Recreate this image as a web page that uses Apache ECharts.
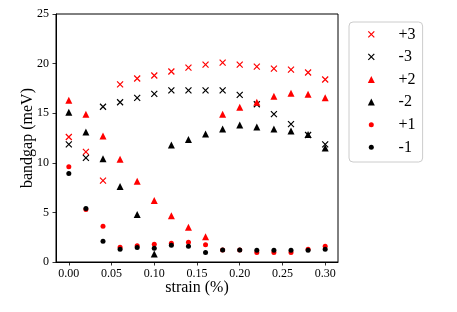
<!DOCTYPE html>
<html>
<head>
<meta charset="utf-8">
<script src="https://cdn.jsdelivr.net/npm/echarts@6/dist/echarts.min.js"></script>
<style>html,body{margin:0;padding:0;background:#fff}#c{width:457px;height:312px}</style>
</head>
<body>
<div id="c"></div>
<script>
var strain = [0.00,0.02,0.04,0.06,0.08,0.10,0.12,0.14,0.16,0.18,0.20,0.22,0.24,0.26,0.28,0.30];
var plus3  = [12.6,11.1,8.2,17.9,18.5,18.8,19.2,19.6,19.9,20.1,19.9,19.7,19.5,19.4,19.1,18.4];
var minus3 = [11.85,10.5,15.65,16.1,16.55,16.95,17.3,17.3,17.3,17.3,16.85,15.9,14.9,13.9,12.8,11.85];
var plus2  = [16.3,14.9,12.7,10.35,8.15,6.2,4.65,3.5,2.55,14.9,15.6,16.1,16.7,17.0,16.9,16.55];
var minus2 = [15.1,13.1,10.4,7.6,4.8,0.8,11.8,12.35,12.9,13.4,13.8,13.6,13.4,13.2,12.85,11.5];
var plus1  = [9.6,5.3,3.6,1.48,1.65,1.78,1.9,2.0,1.75,1.2,1.2,0.95,0.97,0.95,1.28,1.6];
var minus1 = [8.93,5.4,2.1,1.28,1.45,1.38,1.7,1.6,0.95,1.2,1.2,1.18,1.18,1.18,1.18,1.28];
var xTicks = [0.00,0.05,0.10,0.15,0.20,0.25,0.30];
var names = ['+3','-3','+2','-2','+1','-1'];

function pairs(ys){ return strain.map(function(x,i){ return [x, ys[i]]; }); }

var CROSS = 'path://M0,0L10,10M10,0L0,10';
var CROSS_L = 'path://M0,0M7,7M0.5,0.5L6.5,6.5M6.5,0.5L0.5,6.5';
var DOT_L = 'path://M0,0M7,7M3.5,1A2.5,2.5,0,1,1,3.5,6A2.5,2.5,0,1,1,3.5,1Z';
var FONT = 'Liberation Serif';

function crossSeries(name, ys, col){
  return {name:name, type:'scatter', data:pairs(ys), symbol:CROSS, symbolSize:6,
    itemStyle:{color:col, borderColor:col, borderWidth:1.2, opacity:1}};
}
function markSeries(name, ys, col, sym, size){
  return {name:name, type:'scatter', data:pairs(ys), symbol:sym, symbolSize:size,
    itemStyle:{color:col, borderWidth:0, opacity:1}};
}

var chart = echarts.init(document.getElementById('c'), null, {renderer:'canvas'});
chart.setOption({
  animation:false,
  backgroundColor:'#fff',
  grid:{left:56, right:119, top:14, bottom:50, show:true, borderColor:'#000', borderWidth:1, backgroundColor:'transparent'},
  xAxis:{type:'value', min:-0.015, max:0.315,
    name:'strain (%)', nameLocation:'middle', nameGap:18, nameMoveOverlap:false,
    nameTextStyle:{fontFamily:FONT, fontSize:16, color:'#000'},
    axisLine:{show:true, onZero:false, lineStyle:{color:'#000', width:1}},
    axisTick:{show:true, inside:false, length:3.5, customValues:xTicks, lineStyle:{color:'#000', width:0.8}},
    axisLabel:{customValues:xTicks, margin:6, fontFamily:FONT, fontSize:12, color:'#000',
      formatter:function(v){ return v.toFixed(2); }},
    splitLine:{show:false}},
  yAxis:{type:'value', min:0, max:25, interval:5,
    name:'bandgap (meV)', nameLocation:'middle', nameGap:20, nameMoveOverlap:false,
    nameTextStyle:{fontFamily:FONT, fontSize:16, color:'#000'},
    axisLine:{show:true, onZero:false, lineStyle:{color:'#000', width:1}},
    axisTick:{show:true, inside:false, length:3.5, lineStyle:{color:'#000', width:0.8}},
    axisLabel:{margin:7, fontFamily:FONT, fontSize:12, color:'#000'},
    splitLine:{show:false}},
  legend:{orient:'vertical', left:349, top:22, itemWidth:7, itemHeight:7, itemGap:6.6,
    padding:[4.3,7,6.7,18.2], borderColor:'#cccccc', borderWidth:1, borderRadius:4,
    backgroundColor:'rgba(255,255,255,0.8)',
    textStyle:{fontFamily:FONT, fontSize:16, lineHeight:16, color:'#000', padding:[0,0,0,18.8]},
    data:[
      {name:names[0], icon:CROSS_L, itemStyle:{color:'#ff0000', borderColor:'#ff0000', borderWidth:1.2, opacity:1}},
      {name:names[1], icon:CROSS_L, itemStyle:{color:'#000000', borderColor:'#000000', borderWidth:1.2, opacity:1}},
      {name:names[2], icon:'triangle', itemStyle:{color:'#ff0000', borderWidth:0, opacity:1}},
      {name:names[3], icon:'triangle', itemStyle:{color:'#000000', borderWidth:0, opacity:1}},
      {name:names[4], icon:DOT_L, itemStyle:{color:'#ff0000', borderWidth:0, opacity:1}},
      {name:names[5], icon:DOT_L, itemStyle:{color:'#000000', borderWidth:0, opacity:1}}
    ]},
  series:[
    crossSeries(names[0], plus3, '#ff0000'),
    crossSeries(names[1], minus3, '#000000'),
    markSeries(names[2], plus2, '#ff0000', 'triangle', 7),
    markSeries(names[3], minus2, '#000000', 'triangle', 7),
    markSeries(names[4], plus1, '#ff0000', 'circle', 5),
    markSeries(names[5], minus1, '#000000', 'circle', 5)
  ]
});
</script>
</body>
</html>
